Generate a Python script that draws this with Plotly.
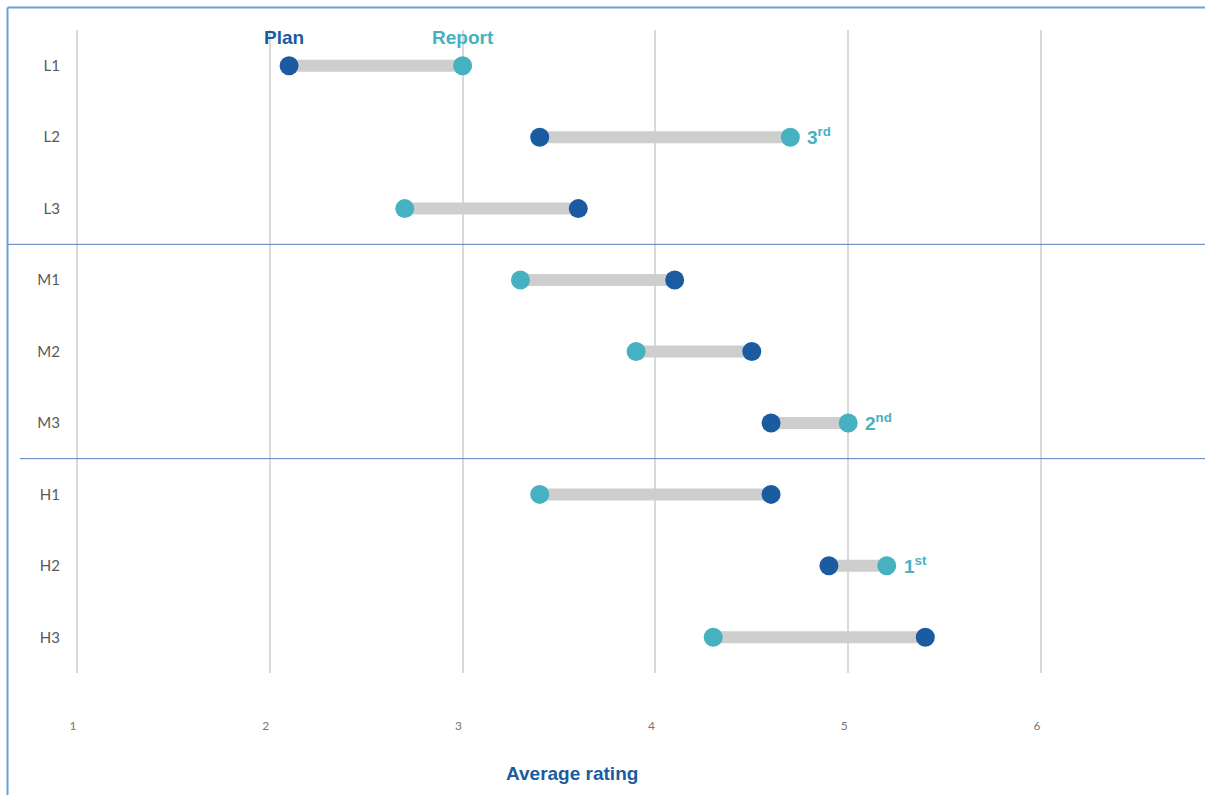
import plotly.graph_objects as go

categories = ["L1", "L2", "L3", "M1", "M2", "M3", "H1", "H2", "H3"]
plan = [2.1, 3.4, 3.6, 4.1, 4.5, 4.6, 4.6, 4.9, 5.4]
report = [3.0, 4.7, 2.7, 3.3, 3.9, 5.0, 3.4, 5.2, 4.3]
ranks = {"H2": "1<sup>st</sup>", "M3": "2<sup>nd</sup>", "L2": "3<sup>rd</sup>"}
x_ticks = [1, 2, 3, 4, 5, 6]

PLAN_C = "#1B5BA0"
REP_C = "#45B1C1"
BAR_C = "#CFCECE"
FRAME_C = "#6A9FD8"
SEP_C = "#5B7FBF"

T, B = 30, 122
PH = 795 - T - B

fig = go.Figure()

# connecting bars
bx, by = [], []
for c, p, r in zip(categories, plan, report):
    bx += [p, r, None]
    by += [c, c, None]
fig.add_trace(go.Scatter(x=bx, y=by, mode="lines", line=dict(color=BAR_C, width=12),
                         hoverinfo="skip", showlegend=False))
fig.add_trace(go.Scatter(x=plan, y=categories, mode="markers", name="Plan",
                         marker=dict(color=PLAN_C, size=19), showlegend=False))
fig.add_trace(go.Scatter(x=report, y=categories, mode="markers", name="Report",
                         marker=dict(color=REP_C, size=19), showlegend=False))

# series labels above first row
fig.add_annotation(x=plan[0], y=categories[0], yshift=28, xshift=-5, text="<b>Plan</b>",
                   showarrow=False, font=dict(family="Liberation Sans", size=19, color=PLAN_C))
fig.add_annotation(x=report[0], y=categories[0], yshift=28, text="<b>Report</b>",
                   showarrow=False, font=dict(family="Liberation Sans", size=19, color=REP_C))

# rank labels
for c, r in zip(categories, report):
    if c in ranks:
        fig.add_annotation(x=r, y=c, xanchor="left", xshift=15, yshift=1, text="<b>" + ranks[c] + "</b>",
                           showarrow=False, font=dict(family="Liberation Sans", size=19, color=REP_C))

# x-axis title
fig.add_annotation(xref="paper", yref="paper", x=(572 - 66) / 1139, y=-(773 - (795 - B)) / PH,
                   text="<b>Average rating</b>", showarrow=False, yanchor="middle",
                   font=dict(family="Liberation Sans", size=19, color=PLAN_C))

# group separators
fig.add_shape(type="line", xref="paper", yref="y", x0=(8 - 66) / 1139, x1=1, y0=2.5, y1=2.5,
              line=dict(color=SEP_C, width=1))
fig.add_shape(type="line", xref="paper", yref="y", x0=(20 - 66) / 1139, x1=1, y0=5.5, y1=5.5,
              line=dict(color=SEP_C, width=1))

# frame (left and top)
fx0 = (7.5 - 66) / 1139
fy1 = 1 + (T - 7.5) / PH
fig.add_shape(type="line", xref="paper", yref="paper", x0=fx0, x1=fx0, y0=fy1, y1=-0.2,
              line=dict(color=FRAME_C, width=2))
fig.add_shape(type="line", xref="paper", yref="paper", x0=fx0, x1=1.01, y0=fy1, y1=fy1,
              line=dict(color=FRAME_C, width=2))

fig.update_layout(
    width=1205, height=795,
    margin=dict(l=66, r=0, t=T, b=B),
    paper_bgcolor="white", plot_bgcolor="white",
    xaxis=dict(range=[1 - 11 / 192.8, 6 + 164 / 192.8], tickvals=x_ticks,
               showgrid=True, gridcolor="#D9D9D9", gridwidth=2, zeroline=False,
               ticks="outside", ticklen=42, tickcolor="rgba(0,0,0,0)",
               ticklabelshift=-4,
               tickfont=dict(family="Lato", size=12, color="#777777"), showline=False),
    yaxis=dict(categoryorder="array", categoryarray=categories, range=[8.5, -0.5],
               showgrid=False, zeroline=False, showline=False, ticks="outside", ticklen=2,
               tickcolor="rgba(0,0,0,0)",
               tickfont=dict(family="Lato", size=15, color="#595959")),
)

fig.write_html("out.html")
